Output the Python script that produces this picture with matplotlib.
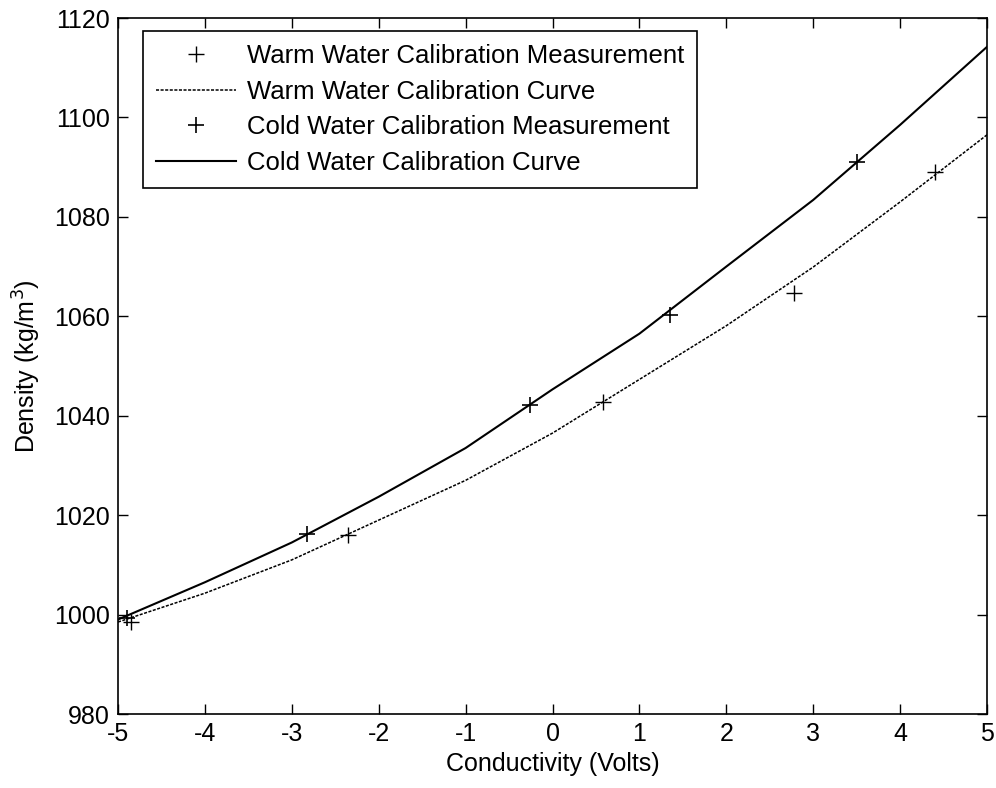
import matplotlib
matplotlib.use("Agg")
import matplotlib.pyplot as plt

plt.rcParams['font.family'] = ['Liberation Sans', 'DejaVu Sans']
plt.rcParams['axes.unicode_minus'] = False

# Calibration curves
curve_x = [-5, -4, -3, -2, -1, 0, 1, 2, 3, 4, 5]
warm_curve = [998.5, 1004.3, 1011.0, 1019.0, 1027.0, 1036.5, 1047.3, 1058.1, 1069.9, 1083.0, 1096.5]
cold_curve = [999.0, 1006.5, 1014.5, 1023.7, 1033.5, 1045.3, 1056.5, 1070.0, 1083.4, 1098.5, 1114.2]

# Measurements
warm_meas_x = [-4.85, -2.35, 0.58, 2.78, 4.40]
warm_meas_y = [998.5, 1016.0, 1042.8, 1064.7, 1089.0]
cold_meas_x = [-4.90, -2.82, -0.26, 1.35, 3.50]
cold_meas_y = [999.3, 1016.2, 1042.1, 1060.3, 1091.0]

xticks = [-5, -4, -3, -2, -1, 0, 1, 2, 3, 4, 5]
yticks = [980, 1000, 1020, 1040, 1060, 1080, 1100, 1120]

fig = plt.figure(figsize=(9.96, 7.88), dpi=100)
ax = fig.add_axes([118/996, 1 - 714/788, (987-118)/996, (714-18)/788])

ax.plot(warm_meas_x, warm_meas_y, linestyle='none', marker='+', color='black',
        markersize=11, markeredgewidth=1.0, label='Warm Water Calibration Measurement')
ax.plot(curve_x, warm_curve, linestyle=(0, (2, 1)), color='black', linewidth=1.1,
        label='Warm Water Calibration Curve')
ax.plot(cold_meas_x, cold_meas_y, linestyle='none', marker='+', color='black',
        markersize=12, markeredgewidth=1.2, label='Cold Water Calibration Measurement')
ax.plot(curve_x, cold_curve, linestyle='-', color='black', linewidth=1.5,
        label='Cold Water Calibration Curve')

ax.set_xlim(-5, 5)
ax.set_ylim(980, 1120)
ax.set_xticks(xticks)
ax.set_yticks(yticks)
ax.tick_params(direction='in', length=7, width=1, top=True, right=True,
               labelsize=18, pad=6)
for s in ax.spines.values():
    s.set_linewidth(1.2)

ax.set_xlabel('Conductivity (Volts)', fontsize=18, labelpad=4)
ax.set_ylabel('Density (kg/m$^3$)', fontsize=18, labelpad=8)

leg = ax.legend(loc='upper left', bbox_to_anchor=(0.029, 0.981), fontsize=18.5,
                frameon=True, fancybox=False, edgecolor='black', framealpha=1,
                handlelength=3.1, borderpad=0.5, labelspacing=0.45, handletextpad=0.45,
                borderaxespad=0)
leg.get_frame().set_linewidth(1.2)

fig.savefig('out.png', dpi=100)
